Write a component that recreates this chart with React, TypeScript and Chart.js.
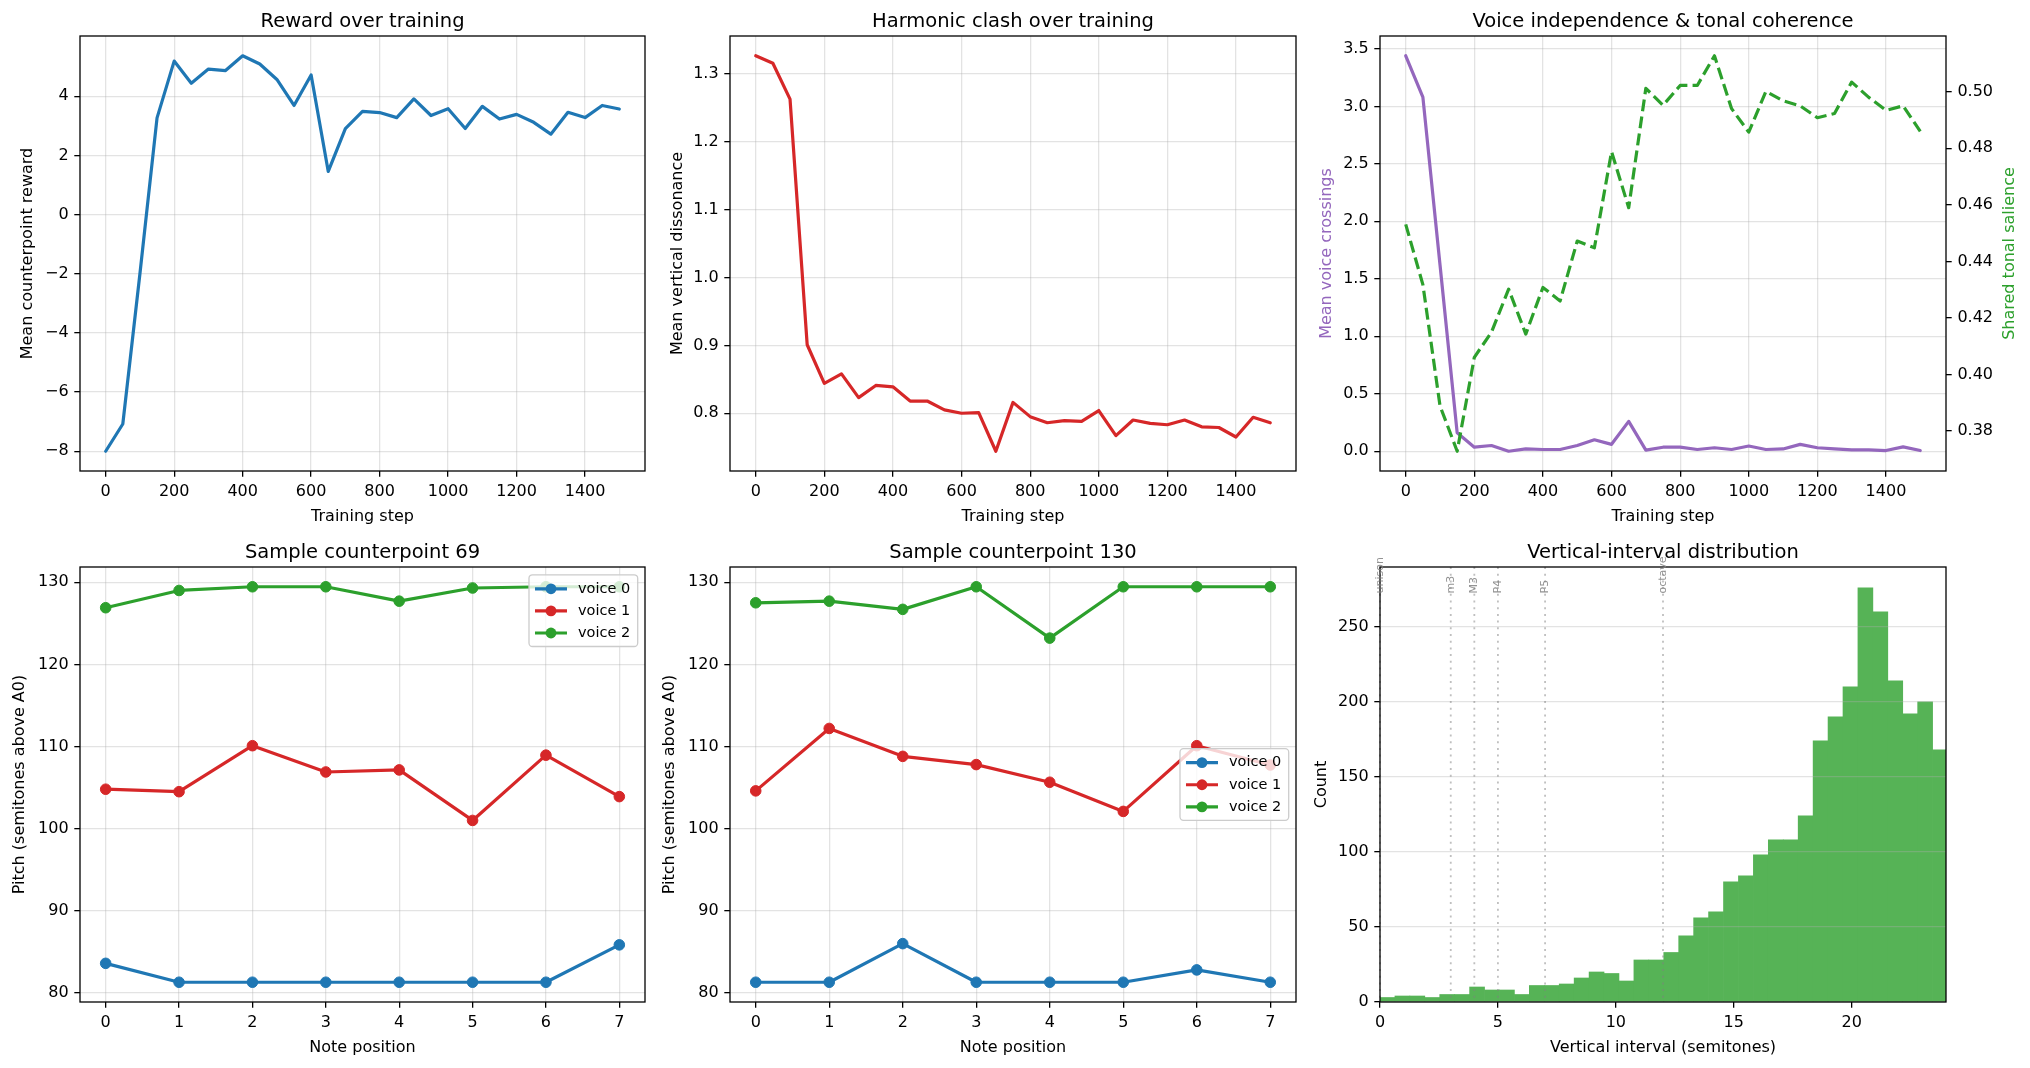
import React, { useEffect, useRef } from 'react';
import { Chart, registerables } from 'chart.js';

Chart.register(...registerables);

const FONT = '"DejaVu Sans", "Liberation Sans", sans-serif';

// ---------------- data ----------------
const trainingSteps = [0, 50, 100, 150, 200, 250, 300, 350, 400, 450, 500, 550, 600, 650, 700, 750,
  800, 850, 900, 950, 1000, 1050, 1100, 1150, 1200, 1250, 1300, 1350, 1400, 1450, 1500];

const meanReward = [-8.0, -7.08, -2.0, 3.27, 5.19, 4.44, 4.92, 4.87, 5.37, 5.09, 4.57, 3.69, 4.72, 1.46,
  2.91, 3.49, 3.45, 3.28, 3.91, 3.35, 3.58, 2.91, 3.66, 3.23, 3.39, 3.12, 2.72, 3.46, 3.28, 3.69, 3.57];

const meanDissonance = [1.327, 1.316, 1.263, 0.901, 0.844, 0.858, 0.823, 0.841, 0.839, 0.818, 0.818,
  0.805, 0.800, 0.801, 0.744, 0.816, 0.795, 0.786, 0.789, 0.788, 0.804, 0.767, 0.790, 0.785, 0.783,
  0.790, 0.780, 0.779, 0.765, 0.794, 0.786];

const voiceCrossings = [3.44, 3.08, 1.62, 0.16, 0.035, 0.05, 0.0, 0.02, 0.015, 0.015, 0.05, 0.10, 0.06,
  0.26, 0.01, 0.035, 0.035, 0.015, 0.03, 0.015, 0.045, 0.015, 0.02, 0.06, 0.03, 0.02, 0.012, 0.012,
  0.006, 0.038, 0.006];

const tonalSalience = [0.4531, 0.4318, 0.3889, 0.3729, 0.4061, 0.4150, 0.4302, 0.4143, 0.4308, 0.4260,
  0.4472, 0.4448, 0.4788, 0.4590, 0.5012, 0.4952, 0.5022, 0.5022, 0.5127, 0.4940, 0.4857, 0.5001,
  0.4968, 0.4950, 0.4908, 0.4923, 0.5034, 0.4980, 0.4934, 0.4950, 0.4860];

const notePositions = [0, 1, 2, 3, 4, 5, 6, 7];
const voiceLabels = ['voice 0', 'voice 1', 'voice 2'];

const sample69Voice0 = [83.6, 81.3, 81.3, 81.3, 81.3, 81.3, 81.3, 85.85];
const sample69Voice1 = [104.8, 104.5, 110.1, 106.9, 107.15, 101.0, 108.95, 103.9];
const sample69Voice2 = [126.9, 129.0, 129.45, 129.45, 127.7, 129.3, 129.45, 129.45];

const sample130Voice0 = [81.3, 81.3, 86.0, 81.3, 81.3, 81.3, 82.8, 81.3];
const sample130Voice1 = [104.6, 112.2, 108.8, 107.8, 105.65, 102.1, 110.1, 107.75];
const sample130Voice2 = [127.5, 127.7, 126.7, 129.45, 123.2, 129.45, 129.45, 129.45];

const intervalBinWidth = 0.6333;
const intervalCounts = [3, 4, 4, 3, 5, 5, 10, 8, 8, 5, 11, 11, 12, 16, 20, 19, 14, 28, 28, 33, 44, 56,
  60, 80, 84, 98, 108, 108, 124, 174, 190, 210, 276, 260, 214, 192, 200, 168];
const intervalMarks = [0, 3, 4, 5, 7, 12];
const intervalNames = ['unison', 'm3', 'M3', 'P4', 'P5', 'octave'];

// tick labels
const stepTicks = [0, 200, 400, 600, 800, 1000, 1200, 1400];
const rewardTicks = [-8, -6, -4, -2, 0, 2, 4];
const dissonanceTicks = [0.8, 0.9, 1.0, 1.1, 1.2, 1.3];
const crossingTicks = [0, 0.5, 1.0, 1.5, 2.0, 2.5, 3.0, 3.5];
const salienceTicks = [0.38, 0.40, 0.42, 0.44, 0.46, 0.48, 0.50];
const pitchTicks = [80, 90, 100, 110, 120, 130];
const noteTicks = [0, 1, 2, 3, 4, 5, 6, 7];
const intervalTicks = [0, 5, 10, 15, 20];
const countTicks = [0, 50, 100, 150, 200, 250];

// colours
const BLUE = '#1f77b4';
const RED = '#d62728';
const GREEN = '#2ca02c';
const PURPLE = '#9467bd';
const HIST = 'rgb(86,179,86)';
const GRID = 'rgba(176,176,176,0.35)';

// ---------------- layout ----------------
const ROWS = [
  { top: 0, height: 530, padTop: 36, xH: 59 },
  { top: 530, height: 538, padTop: 37, xH: 66 },
];
const COLS = [
  { left: 0, width: 660, yW: 80, padRight: 15 },
  { left: 660, width: 650, yW: 70, padRight: 14 },
  { left: 1310, width: 720, yW: 70, padRight: 84 },
];
const RIGHT_AXIS_W = 84;

// ---------------- helpers ----------------
const fmtInt = (v: number) => (v < 0 ? '\u2212' : '') + Math.abs(Math.round(v)).toString();
const fmt1 = (v: number) => v.toFixed(1);
const fmt2 = (v: number) => v.toFixed(2);

function padRange(vals: number[], frac = 0.05) {
  const mn = Math.min(...vals);
  const mx = Math.max(...vals);
  const d = (mx - mn) * frac;
  return { min: mn - d, max: mx + d };
}

function makeAxis(s: {
  pos: 'left' | 'right' | 'bottom';
  min: number; max: number; ticks: number[]; fmt: (v: number) => string; size: number;
  grid?: boolean; gridZ?: number;
}) {
  return {
    type: 'linear',
    position: s.pos,
    min: s.min,
    max: s.max,
    offset: false,
    afterBuildTicks: (a: any) => { a.ticks = s.ticks.map((v) => ({ value: v })); },
    afterFit: (a: any) => { if (s.pos === 'bottom') a.height = s.size; else a.width = s.size; },
    ticks: {
      autoSkip: false, maxRotation: 0, minRotation: 0, padding: 5.7, color: '#000',
      includeBounds: false,
      font: { family: FONT, size: 16 },
      callback: (v: any) => s.fmt(Number(v)),
    },
    grid: {
      display: true, drawOnChartArea: s.grid !== false, color: GRID, lineWidth: 1.3,
      drawTicks: true, tickLength: 5.7, tickColor: '#000', tickWidth: 1.3, offset: false,
      z: s.gridZ ?? -1,
    },
    border: { display: false },
    title: { display: false },
  };
}

type Decor = {
  title: string; xTitle: string; yTitle: string; yOff: number; yColor?: string;
  y2Title?: string; y2Off?: number; y2Color?: string;
  legend?: { loc: 'upper right' | 'center right'; items: { label: string; color: string }[] };
  vlines?: { values: number[]; names: string[] };
};

function decorPlugin(d: Decor) {
  return {
    id: 'decor',
    afterDraw(chart: any) {
      const ctx: CanvasRenderingContext2D = chart.ctx;
      const a = chart.chartArea;
      const cx = (a.left + a.right) / 2;
      const cy = (a.top + a.bottom) / 2;
      ctx.save();
      if (d.vlines) {
        const xs = chart.scales.x;
        ctx.save();
        ctx.setLineDash([2, 4.7]);
        ctx.lineWidth = 1.8;
        ctx.strokeStyle = 'rgba(128,128,128,0.5)';
        d.vlines.values.forEach((v) => {
          const px = xs.getPixelForValue(v);
          ctx.beginPath();
          ctx.moveTo(px, a.top);
          ctx.lineTo(px, a.bottom);
          ctx.stroke();
        });
        ctx.restore();
      }
      // frame (spines)
      ctx.setLineDash([]);
      ctx.strokeStyle = '#000';
      ctx.lineWidth = 1.3;
      ctx.strokeRect(a.left, a.top, a.right - a.left, a.bottom - a.top);
      // interval labels
      if (d.vlines) {
        const xs = chart.scales.x;
        ctx.font = `11px ${FONT}`;
        ctx.fillStyle = 'rgba(128,128,128,0.85)';
        ctx.textAlign = 'left';
        ctx.textBaseline = 'middle';
        d.vlines.values.forEach((v, i) => {
          const px = xs.getPixelForValue(v);
          ctx.save();
          ctx.translate(px, a.top + 26.5);
          ctx.rotate(-Math.PI / 2);
          ctx.fillText(d.vlines!.names[i], 0, 0);
          ctx.restore();
        });
      }
      // legend
      if (d.legend) {
        ctx.font = `14.5px ${FONT}`;
        const tw = Math.max(...d.legend.items.map((it) => ctx.measureText(it.label).width));
        const w = 49 + tw + 7.5;
        const h = 71.7;
        const x0 = a.right - 7.3 - w;
        const y0 = d.legend.loc === 'upper right' ? a.top + 7.8 : cy - h / 2;
        ctx.beginPath();
        if ((ctx as any).roundRect) (ctx as any).roundRect(x0, y0, w, h, 3.5);
        else ctx.rect(x0, y0, w, h);
        ctx.fillStyle = 'rgba(255,255,255,0.8)';
        ctx.fill();
        ctx.strokeStyle = '#cccccc';
        ctx.lineWidth = 1.3;
        ctx.stroke();
        d.legend.items.forEach((it, i) => {
          const ry = y0 + 14 + i * 22.1;
          ctx.strokeStyle = it.color;
          ctx.lineWidth = 3.2;
          ctx.beginPath();
          ctx.moveTo(x0 + 6, ry);
          ctx.lineTo(x0 + 38, ry);
          ctx.stroke();
          ctx.fillStyle = it.color;
          ctx.beginPath();
          ctx.arc(x0 + 22, ry, 5.4, 0, Math.PI * 2);
          ctx.fill();
          ctx.fillStyle = '#000';
          ctx.textAlign = 'left';
          ctx.textBaseline = 'middle';
          ctx.fillText(it.label, x0 + 49, ry);
        });
      }
      // titles
      ctx.fillStyle = '#000';
      ctx.textAlign = 'center';
      ctx.textBaseline = 'alphabetic';
      ctx.font = `19.5px ${FONT}`;
      ctx.fillText(d.title, cx, a.top - 9);
      ctx.font = `16px ${FONT}`;
      ctx.fillText(d.xTitle, cx, a.bottom + 49.5);
      const drawV = (text: string, x: number, color: string) => {
        ctx.save();
        ctx.translate(x, cy);
        ctx.rotate(-Math.PI / 2);
        ctx.fillStyle = color;
        ctx.textAlign = 'center';
        ctx.textBaseline = 'alphabetic';
        ctx.font = `16px ${FONT}`;
        ctx.fillText(text, 0, 0);
        ctx.restore();
      };
      drawV(d.yTitle, a.left - d.yOff, d.yColor ?? '#000');
      if (d.y2Title) drawV(d.y2Title, a.right + (d.y2Off ?? 68), d.y2Color ?? '#000');
      ctx.restore();
    },
  };
}

function baseOptions(row: number, col: number, hasRight: boolean) {
  const r = ROWS[row];
  const c = COLS[col];
  return {
    responsive: false,
    maintainAspectRatio: false,
    animation: false,
    devicePixelRatio: 1,
    events: [],
    layout: { padding: { top: r.padTop, left: 0, bottom: 0, right: hasRight ? 0 : c.padRight } },
    plugins: { legend: { display: false }, tooltip: { enabled: false }, title: { display: false } },
  };
}

const pts = (xs: number[], ys: number[]) => xs.map((x, i) => ({ x, y: ys[i] }));

function lineDs(data: any[], color: string, extra: any = {}) {
  return {
    data, borderColor: color, backgroundColor: color, borderWidth: 3.2, pointRadius: 0,
    tension: 0, fill: false, borderJoinStyle: 'round', borderCapStyle: 'round', ...extra,
  };
}

// ---------------- panel configs ----------------
function trainingLineConfig(col: number, values: number[], color: string, yTicks: number[],
  fmt: (v: number) => string, title: string, yTitle: string, yOff: number) {
  const r = ROWS[0];
  const c = COLS[col];
  const xr = padRange(trainingSteps);
  const yr = padRange(values);
  return {
    type: 'line',
    data: { datasets: [lineDs(pts(trainingSteps, values), color)] },
    options: {
      ...baseOptions(0, col, false),
      scales: {
        x: makeAxis({ pos: 'bottom', ...xr, ticks: stepTicks, fmt: fmtInt, size: r.xH }),
        y: makeAxis({ pos: 'left', ...yr, ticks: yTicks, fmt, size: c.yW }),
      },
    },
    plugins: [decorPlugin({ title, xTitle: 'Training step', yTitle, yOff })],
  };
}

function tonalConfig() {
  const r = ROWS[0];
  const c = COLS[2];
  const xr = padRange(trainingSteps);
  const yr = padRange(voiceCrossings);
  const y2r = padRange(tonalSalience);
  return {
    type: 'line',
    data: {
      datasets: [
        lineDs(pts(trainingSteps, tonalSalience), GREEN, {
          yAxisID: 'y1', borderDash: [12, 5.2], borderCapStyle: 'butt', order: 0,
        }),
        lineDs(pts(trainingSteps, voiceCrossings), PURPLE, { yAxisID: 'y', order: 1 }),
      ],
    },
    options: {
      ...baseOptions(0, 2, true),
      scales: {
        x: makeAxis({ pos: 'bottom', ...xr, ticks: stepTicks, fmt: fmtInt, size: r.xH }),
        y: makeAxis({ pos: 'left', ...yr, ticks: crossingTicks, fmt: fmt1, size: c.yW }),
        y1: makeAxis({ pos: 'right', ...y2r, ticks: salienceTicks, fmt: fmt2, size: RIGHT_AXIS_W, grid: false }),
      },
    },
    plugins: [decorPlugin({
      title: 'Voice independence & tonal coherence', xTitle: 'Training step',
      yTitle: 'Mean voice crossings', yOff: 49, yColor: PURPLE,
      y2Title: 'Shared tonal salience', y2Off: 68, y2Color: GREEN,
    })],
  };
}

function sampleConfig(col: number, v0: number[], v1: number[], v2: number[], title: string,
  loc: 'upper right' | 'center right') {
  const r = ROWS[1];
  const c = COLS[col];
  const xr = padRange(notePositions);
  const yr = padRange([...v0, ...v1, ...v2]);
  const colors = [BLUE, RED, GREEN];
  const series = [v0, v1, v2];
  return {
    type: 'line',
    data: {
      datasets: series.map((s, i) => lineDs(pts(notePositions, s), colors[i], {
        pointRadius: 5.3, pointBorderWidth: 1, pointBackgroundColor: colors[i], pointBorderColor: colors[i],
        order: 2 - i,
      })),
    },
    options: {
      ...baseOptions(1, col, false),
      scales: {
        x: makeAxis({ pos: 'bottom', ...xr, ticks: noteTicks, fmt: fmtInt, size: r.xH }),
        y: makeAxis({ pos: 'left', ...yr, ticks: pitchTicks, fmt: fmtInt, size: c.yW }),
      },
    },
    plugins: [decorPlugin({
      title, xTitle: 'Note position', yTitle: 'Pitch (semitones above A0)', yOff: 56,
      legend: { loc, items: voiceLabels.map((label, i) => ({ label, color: colors[i] })) },
    })],
  };
}

function histConfig() {
  const r = ROWS[1];
  const c = COLS[2];
  const data = intervalCounts.map((n, k) => ({ x: (k + 0.5) * intervalBinWidth, y: n }));
  return {
    type: 'bar',
    data: {
      datasets: [{
        data, backgroundColor: HIST, borderWidth: 0, barPercentage: 1, categoryPercentage: 1,
        grouped: false,
      }],
    },
    options: {
      ...baseOptions(1, 2, false),
      scales: {
        x: makeAxis({ pos: 'bottom', min: 0, max: 24, ticks: intervalTicks, fmt: fmtInt, size: r.xH, grid: false }),
        y: makeAxis({ pos: 'left', min: 0, max: Math.max(...intervalCounts) * 1.05, ticks: countTicks, fmt: fmtInt, size: c.yW, gridZ: 1 }),
      },
    },
    plugins: [decorPlugin({
      title: 'Vertical-interval distribution', xTitle: 'Vertical interval (semitones)',
      yTitle: 'Count', yOff: 54, vlines: { values: intervalMarks, names: intervalNames },
    })],
  };
}

// ---------------- components ----------------
function Panel(props: { row: number; col: number; config: () => any }) {
  const ref = useRef<HTMLCanvasElement | null>(null);
  const r = ROWS[props.row];
  const c = COLS[props.col];
  useEffect(() => {
    if (!ref.current) return;
    const chart = new Chart(ref.current, props.config());
    return () => chart.destroy();
  }, []);
  return (
    <canvas
      ref={ref}
      width={c.width}
      height={r.height}
      style={{ position: 'absolute', left: c.left, top: r.top, width: c.width, height: r.height, display: 'block' }}
    />
  );
}

export default function App() {
  return (
    <div style={{ position: 'absolute', left: 0, top: 0, width: 2030, height: 1068, background: '#fff', overflow: 'hidden' }}>
      <Panel row={0} col={0} config={() => trainingLineConfig(0, meanReward, BLUE, rewardTicks, fmtInt,
        'Reward over training', 'Mean counterpoint reward', 48.5)} />
      <Panel row={0} col={1} config={() => trainingLineConfig(1, meanDissonance, RED, dissonanceTicks, fmt1,
        'Harmonic clash over training', 'Mean vertical dissonance', 48.5)} />
      <Panel row={0} col={2} config={tonalConfig} />
      <Panel row={1} col={0} config={() => sampleConfig(0, sample69Voice0, sample69Voice1, sample69Voice2,
        'Sample counterpoint 69', 'upper right')} />
      <Panel row={1} col={1} config={() => sampleConfig(1, sample130Voice0, sample130Voice1, sample130Voice2,
        'Sample counterpoint 130', 'center right')} />
      <Panel row={1} col={2} config={histConfig} />
    </div>
  );
}
